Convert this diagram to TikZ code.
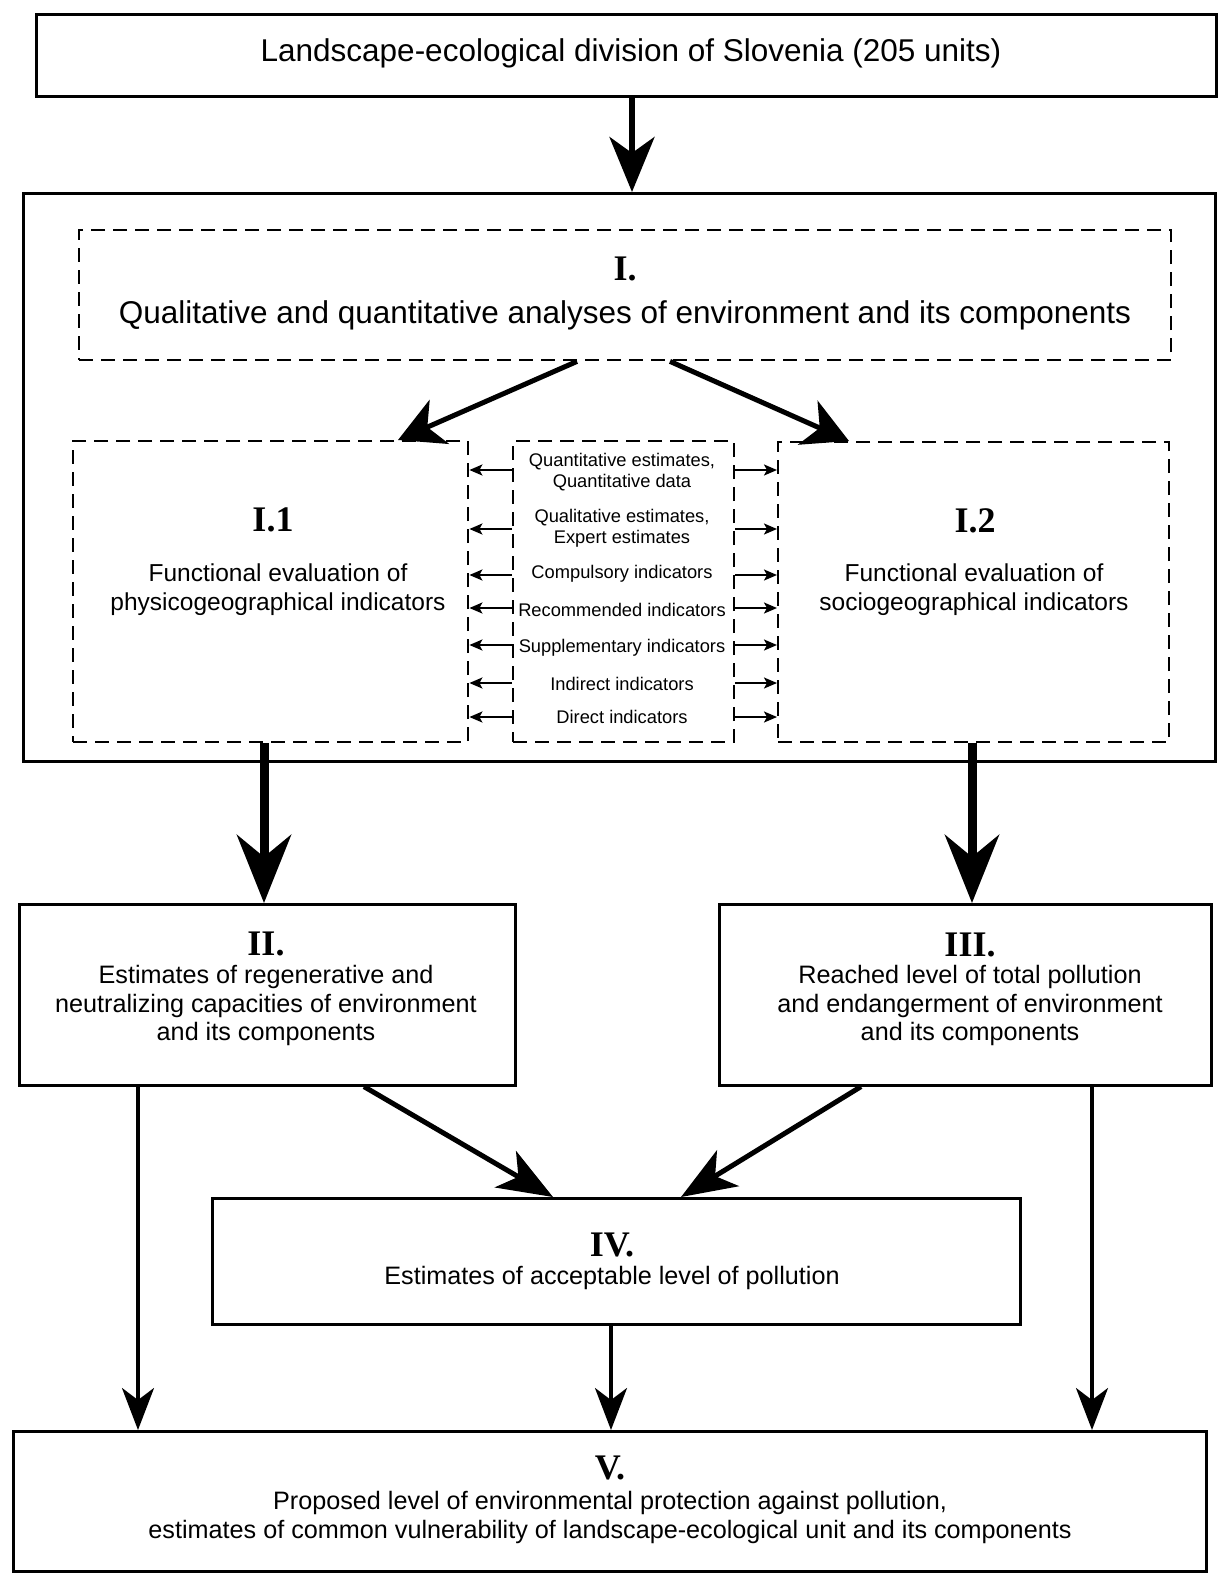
\documentclass[tikz,border=0pt]{standalone}
\usepackage{fontspec}
\setmainfont{Liberation Sans}
\newfontfamily\numfont{Liberation Serif}
\usetikzlibrary{arrows.meta,calc}
\tikzset{
  solidbox/.style={draw, line width=2.6pt, inner sep=0pt, anchor=north west},
  dashbox/.style={draw, line width=2.4pt, dash pattern=on 14pt off 8pt, inner sep=0pt, anchor=north west},
  numtext/.style={font=\numfont\bfseries\fontsize{36}{40}\selectfont, inner sep=0pt},
  bigtext/.style={font=\fontsize{31.5}{35}\selectfont, inner sep=0pt},
  boxtext/.style={font=\fontsize{25.2}{28.5}\selectfont, inner sep=0pt, align=center},
  sidetext/.style={font=\fontsize{24.5}{29}\selectfont, inner sep=0pt, align=center},
  smalltext/.style={font=\fontsize{18.3}{21}\selectfont, inner sep=0pt, align=center},
  toparrow/.style={line width=5.5pt, -{Stealth[length=55pt, width=45pt, inset=16pt]}},
  diagarrowA/.style={line width=5pt, -{Stealth[length=45pt, width=48pt, inset=13pt]}},
  thickarrow/.style={line width=9pt, -{Stealth[length=68pt, width=54pt, inset=22pt]}},
  diagarrowB/.style={line width=5pt, -{Stealth[length=55pt, width=42pt, inset=15pt]}},
  thinarrow/.style={line width=3.5pt, -{Stealth[length=42pt, width=32pt, inset=12pt]}},
  smallarrow/.style={line width=2pt, -{Stealth[length=13pt, width=11pt, inset=3pt]}}
}
\begin{document}
\begin{tikzpicture}[x=1pt,y=-1pt]
\useasboundingbox[fill=white] (0,0) rectangle (1218,1574);

% boxes
\node[solidbox, minimum width=1180pt, minimum height=82pt] (top) at (35,13) {};
\node[solidbox, minimum width=1192pt, minimum height=568pt] (big) at (22,192) {};
\node[dashbox, minimum width=1092pt, minimum height=130pt] (I) at (78,229) {};
\node[dashbox, minimum width=395pt, minimum height=301pt] (I1) at (72,440) {};
\node[dashbox, minimum width=221pt, minimum height=301pt] (mid) at (512,440) {};
\node[dashbox, minimum width=391pt, minimum height=300pt] (I2) at (777,441) {};
\node[solidbox, minimum width=496pt, minimum height=181pt] (II) at (18,903) {};
\node[solidbox, minimum width=492pt, minimum height=181pt] (III) at (718,903) {};
\node[solidbox, minimum width=808pt, minimum height=126pt] (IV) at (211,1197) {};
\node[solidbox, minimum width=1193pt, minimum height=140pt] (V) at (12,1430) {};

% texts
\node[bigtext] (ttitle) at (631,53) {Landscape-ecological division of Slovenia (205 units)};
\node[numtext] (tI) at (625,269) {I.};
\node[bigtext] (tIline) at (625,315) {Qualitative and quantitative analyses of environment and its components};
\node[numtext] (tI1) at (273,520) {I.1};
\node[sidetext] (tI1line) at (278,589.5) {Functional evaluation of\\physicogeographical indicators};
\node[numtext] (tI2) at (975,521) {I.2};
\node[sidetext] (tI2line) at (974,590) {Functional evaluation of\\sociogeographical indicators};
\node[smalltext] (m1) at (622,472.5) {Quantitative estimates,\\Quantitative data};
\node[smalltext] (m2) at (622,528.5) {Qualitative estimates,\\Expert estimates};
\node[smalltext] (m3) at (622,574) {Compulsory indicators};
\node[smalltext] (m4) at (622,610) {Recommended indicators};
\node[smalltext] (m5) at (622,648) {Supplementary indicators};
\node[smalltext] (m6) at (622,684) {Indirect indicators};
\node[smalltext] (m7) at (622,717) {Direct indicators};
\node[numtext] (tII) at (266,944) {II.};
\node[boxtext] (tIIline) at (266,1005.5) {Estimates of regenerative and\\neutralizing capacities of environment\\and its components};
\node[numtext] (tIII) at (970,945) {III.};
\node[boxtext] (tIIIline) at (970,1005.5) {Reached level of total pollution\\and endangerment of environment\\and its components};
\node[numtext] (tIV) at (612,1245) {IV.};
\node[boxtext] (tIVline) at (612,1278) {Estimates of acceptable level of pollution};
\node[numtext] (tV) at (610,1468) {V.};
\node[boxtext] (tVline) at (610,1517.5) {Proposed level of environmental protection against pollution,\\estimates of common vulnerability of landscape-ecological unit and its components};

% connector x positions
\coordinate (xa) at (632,0);
\coordinate (xb1) at (577,0);
\coordinate (xb2) at (398,0);
\coordinate (xc1) at (670,0);
\coordinate (xc2) at (849,0);
\coordinate (xd) at (264,0);
\coordinate (xe) at (972,0);
\coordinate (xf1) at (364,0);
\coordinate (xf2) at (553,0);
\coordinate (xg1) at (861,0);
\coordinate (xg2) at (681,0);
\coordinate (xh) at (138,0);
\coordinate (xi) at (611,0);
\coordinate (xj) at (1092,0);

\draw[toparrow] (top.south -| xa) -- (big.north -| xa);
\draw[diagarrowA] (I.south -| xb1) -- (I1.north -| xb2);
\draw[diagarrowA] (I.south -| xc1) -- (I2.north -| xc2);
\draw[thickarrow] (I1.south -| xd) -- (II.north -| xd);
\draw[thickarrow] (I2.south -| xe) -- (III.north -| xe);
\draw[diagarrowB] (II.south -| xf1) -- (IV.north -| xf2);
\draw[diagarrowB] (III.south -| xg1) -- (IV.north -| xg2);
\draw[thinarrow] (II.south -| xh) -- (V.north -| xh);
\draw[thinarrow] (IV.south -| xi) -- (V.north -| xi);
\draw[thinarrow] (III.south -| xj) -- (V.north -| xj);

% small indicator arrows
\foreach \yy in {470,529,575,608,645,683,717}{
  \coordinate (ry) at (0,\yy);
  \draw[smallarrow] (mid.west |- ry) -- (I1.east |- ry);
  \draw[smallarrow] (mid.east |- ry) -- (I2.west |- ry);
}
\end{tikzpicture}
\end{document}
